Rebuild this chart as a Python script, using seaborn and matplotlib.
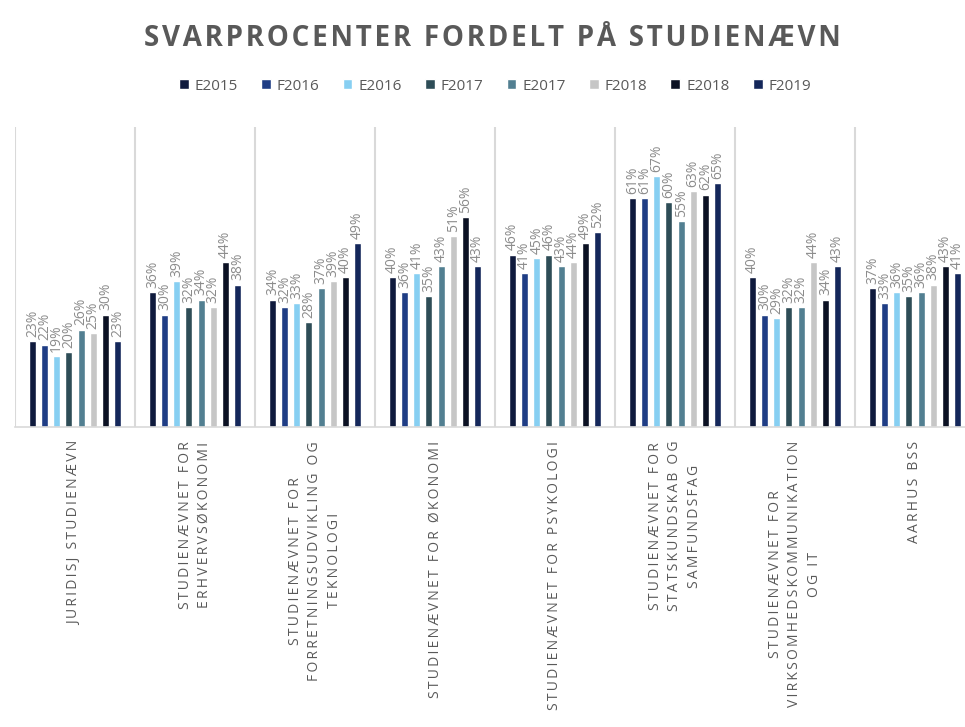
import numpy as np
import pandas as pd
import matplotlib
matplotlib.use("Agg")
import matplotlib.pyplot as plt
import seaborn as sns

# --- data ---
groups = [
    "JURIDISJ STUDIENÆVN",
    "STUDIENÆVNET FOR\nERHVERVSØKONOMI",
    "STUDIENÆVNET FOR\nFORRETNINGSUDVIKLING OG\nTEKNOLOGI",
    "STUDIENÆVNET FOR ØKONOMI",
    "STUDIENÆVNET FOR PSYKOLOGI",
    "STUDIENÆVNET FOR\nSTATSKUNDSKAB OG\nSAMFUNDSFAG",
    "STUDIENÆVNET FOR\nVIRKSOMHEDSKOMMUNIKATION\nOG IT",
    "AARHUS BSS",
]
terms = ["E2015", "F2016", "E2016", "F2017", "E2017", "F2018", "E2018", "F2019"]

juridisk        = [23, 22, 19, 20, 26, 25, 30, 23]
erhvervsokonomi = [36, 30, 39, 32, 34, 32, 44, 38]
forretning      = [34, 32, 33, 28, 37, 39, 40, 49]
okonomi         = [40, 36, 41, 35, 43, 51, 56, 43]
psykologi       = [46, 41, 45, 46, 43, 44, 49, 52]
statskundskab   = [61, 61, 67, 60, 55, 63, 62, 65]
virksomhed      = [40, 30, 29, 32, 32, 44, 34, 43]
aarhus_bss      = [37, 33, 36, 35, 36, 38, 43, 41]

colors = ["#0f1a3d", "#1f3d85", "#87cff2", "#2e4d57",
          "#527f91", "#c6c6c6", "#0b1123", "#14275a"]

series = [juridisk, erhvervsokonomi, forretning, okonomi,
          psykologi, statskundskab, virksomhed, aarhus_bss]

rows = []
for g, vals in zip(groups, series):
    for t, v in zip(terms, vals):
        rows.append({"group": g, "term": t, "value": v})
df = pd.DataFrame(rows)

TXT = "#595959"
FONT = ["Open Sans", "DejaVu Sans"]


def spaced(s, sep="\u200a"):
    # crude letter spacing, one line at a time
    return "\n".join(sep.join(line) for line in s.split("\n"))


sns.set_style("white")
plt.rcParams["font.family"] = FONT

fig = plt.figure(figsize=(9.65, 7.27), dpi=100)
ax = fig.add_axes([15 / 965, 300 / 727, 960 / 965, 300 / 727])

sns.barplot(data=df, x="group", y="value", hue="term", palette=colors,
            width=0.81, gap=0.42, ax=ax, legend=True, saturation=1)

for cont in ax.containers:
    ax.bar_label(cont, fmt="%d%%", rotation=90, padding=3,
                 fontsize=10, color="#8c8c8c")

ax.set_ylim(0, 80)
ax.set_xlim(-0.5, len(groups) - 0.5)
ax.set_yticks([])
ax.set_xlabel("")
ax.set_ylabel("")

# group separators
for x in np.arange(-0.5, len(groups), 1.0):
    ax.axvline(x, color="#d9d9d9", lw=1.5, zorder=0)

for side in ["top", "right", "left"]:
    ax.spines[side].set_visible(False)
ax.spines["bottom"].set_color("#d9d9d9")
ax.spines["bottom"].set_linewidth(1.2)

ax.set_xticks(range(len(groups)))
ax.set_xticklabels([spaced(g, "\u2009") for g in groups], rotation=90,
                   ha="center", va="top", multialignment="center",
                   fontsize=10, color=TXT, linespacing=1.4)
ax.tick_params(axis="x", length=0, pad=10)

handles, labels = ax.get_legend_handles_labels()
ax.legend(handles, labels, loc="center", bbox_to_anchor=(0.513, 641 / 727),
          bbox_transform=fig.transFigure, ncol=8, frameon=False,
          handlelength=0.65, handleheight=0.65, handletextpad=0.4,
          columnspacing=1.5, fontsize=11, labelcolor=TXT)

fig.text(0.51, 689 / 727, spaced("SVARPROCENTER FORDELT PÅ STUDIENÆVN"),
         ha="center", va="center", fontsize=20, fontweight="bold", color=TXT)

fig.savefig("out.png", dpi=100)
plt.close(fig)
